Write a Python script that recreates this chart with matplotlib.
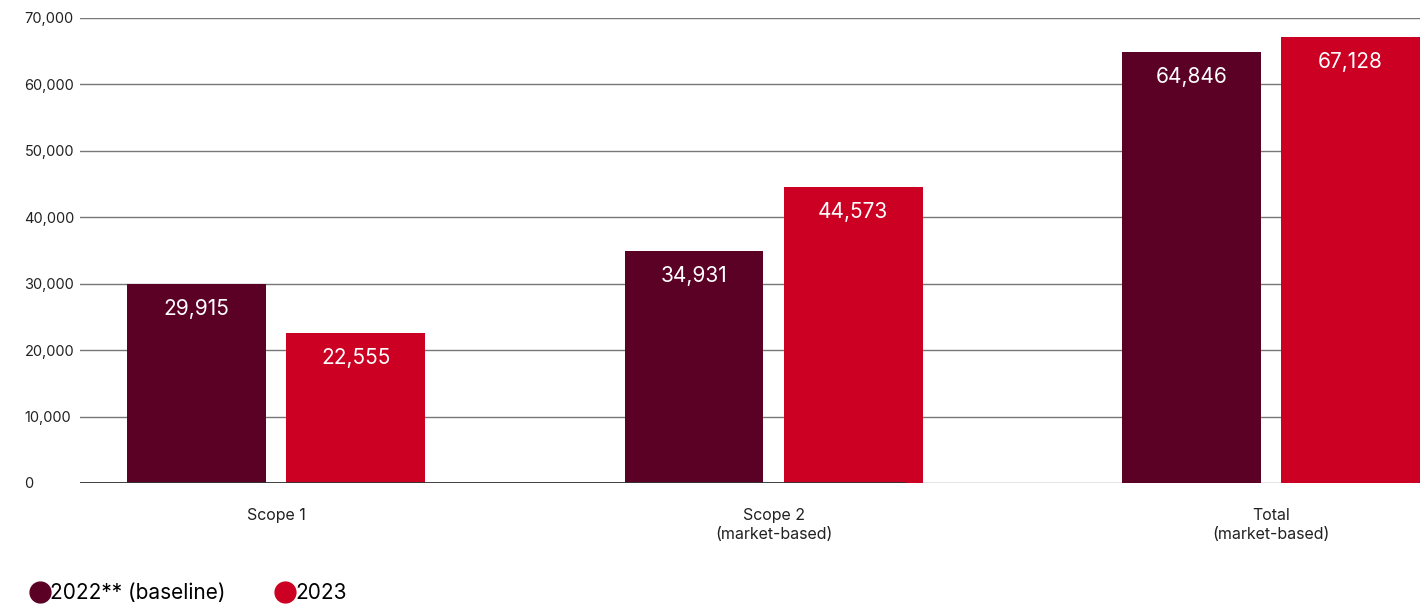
import matplotlib.pyplot as plt
import numpy as np
from matplotlib.lines import Line2D

plt.rcParams['font.family'] = ['Inter', 'DejaVu Sans']

# Data
categories = ['Scope 1', 'Scope 2\n(market-based)', 'Total\n(market-based)']
values_2022 = [29915, 34931, 64846]
values_2023 = [22555, 44573, 67128]
series_names = ['2022** (baseline)', '2023']
colors = ['#5c0126', '#cc0022']

fig = plt.figure(figsize=(14.2, 6.07), dpi=100)
ax = fig.add_axes([80 / 1420, 1 - 483 / 607, 1 - 80 / 1420, (483 - 18) / 607])

x = np.arange(len(categories))
width = 0.279
offset = 0.16

bars1 = ax.bar(x - offset, values_2022, width, color=colors[0], zorder=3)
bars2 = ax.bar(x + offset, values_2023, width, color=colors[1], zorder=3)

for bars in (bars1, bars2):
    for b in bars:
        ax.annotate(f'{int(b.get_height()):,}',
                    (b.get_x() + b.get_width() / 2, b.get_height()),
                    xytext=(0, -18), textcoords='offset points',
                    ha='center', va='center', color='white', fontsize=15)

ax.set_xlim(-0.394, 2.2995)
ax.set_ylim(0, 70000)
ax.set_yticks(np.arange(0, 70001, 10000))
ax.set_yticklabels([f'{v:,}' for v in range(0, 70001, 10000)], ha='left', fontsize=10.5, color='#222222')
ax.tick_params(axis='y', length=0, pad=40)
ax.set_xticks(x)
ax.set_xticklabels(categories, fontsize=11.5, color='#222222', linespacing=1.35)
ax.tick_params(axis='x', length=0, pad=18)

ax.grid(axis='y', color='#777777', linewidth=1.0, zorder=0)
ax.axhline(0, xmin=0, xmax=0.616, color='#333333', linewidth=1.3, zorder=4)
for s in ax.spines.values():
    s.set_visible(False)

handles = [Line2D([], [], marker='o', linestyle='', markersize=15, color=c) for c in colors]
fig.legend(handles, series_names, loc='lower left', bbox_to_anchor=(0.0075, -0.024),
           ncol=2, frameon=False, fontsize=15, handletextpad=0.0, columnspacing=2.36,
           handlelength=1.0)

fig.savefig('out.png', dpi=100)
